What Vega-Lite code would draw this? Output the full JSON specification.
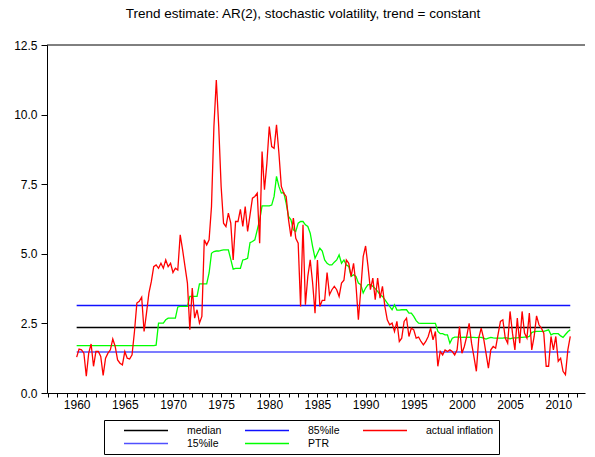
{
  "$schema": "https://vega.github.io/schema/vega-lite/v6.json",
  "width": 538,
  "height": 348,
  "autosize": "none",
  "padding": {"left": 47, "top": 45, "right": 10, "bottom": 64},
  "background": "white",
  "title": {"text": "Trend estimate: AR(2), stochastic volatility, trend = constant", "fontSize": 13.5, "font": "Liberation Sans", "fontWeight": "normal", "offset": 19, "dx": -13, "color": "black"},
  "config": {
    "view": {"stroke": null},
    "font": "Liberation Sans",
    "axis": {"domainColor": "black", "tickColor": "black", "labelColor": "black", "grid": false, "title": null, "labelFontSize": 12, "labelFont": "Liberation Sans"},
    "legend": {"orient": "none", "legendX": 57, "legendY": 375, "columns": 3, "symbolType": "stroke", "symbolSize": 1936, "clipHeight": 11, "symbolStrokeWidth": 1.5, "symbolOffset": 14, "labelOffset": 18, "labelFontSize": 10.5, "labelColor": "black", "strokeColor": "black", "padding": 5, "columnPadding": 8, "rowPadding": 2, "title": null}
  },
  "datasets": {
    "bands": [
      {"s": "median", "t": 1960, "v": 2.35}, {"s": "median", "t": 2011.25, "v": 2.35},
      {"s": "85%ile", "t": 1960, "v": 3.14}, {"s": "85%ile", "t": 2011.25, "v": 3.14},
      {"s": "15%ile", "t": 1960, "v": 1.47}, {"s": "15%ile", "t": 2011.25, "v": 1.47}
    ],
    "infl": [
      {"t":1960,"v":1.29},{"t":1960.25,"v":1.58},{"t":1960.5,"v":1.55},{"t":1960.75,"v":1.43},
      {"t":1961,"v":0.6},{"t":1961.25,"v":1.43},{"t":1961.5,"v":1.76},{"t":1961.75,"v":0.96},
      {"t":1962,"v":1.49},{"t":1962.25,"v":1.49},{"t":1962.5,"v":1.31},{"t":1962.75,"v":0.63},
      {"t":1963,"v":1.25},{"t":1963.25,"v":1.43},{"t":1963.5,"v":1.55},{"t":1963.75,"v":1.94},
      {"t":1964,"v":1.67},{"t":1964.25,"v":1.19},{"t":1964.5,"v":1.07},{"t":1964.75,"v":1.01},
      {"t":1965,"v":1.49},{"t":1965.25,"v":1.25},{"t":1965.5,"v":1.22},{"t":1965.75,"v":1.37},
      {"t":1966,"v":2.2},{"t":1966.25,"v":3.23},{"t":1966.5,"v":3.29},{"t":1966.75,"v":3.44},
      {"t":1967,"v":2.21},{"t":1967.25,"v":2.87},{"t":1967.5,"v":3.59},{"t":1967.75,"v":4.0},
      {"t":1968,"v":4.54},{"t":1968.25,"v":4.6},{"t":1968.5,"v":4.48},{"t":1968.75,"v":4.66},
      {"t":1969,"v":4.48},{"t":1969.25,"v":4.78},{"t":1969.5,"v":4.54},{"t":1969.75,"v":4.66},
      {"t":1970,"v":4.33},{"t":1970.25,"v":4.48},{"t":1970.5,"v":4.42},{"t":1970.75,"v":5.68},
      {"t":1971,"v":5.14},{"t":1971.25,"v":4.54},{"t":1971.5,"v":3.95},{"t":1971.75,"v":2.27},
      {"t":1972,"v":3.77},{"t":1972.25,"v":2.69},{"t":1972.5,"v":2.99},{"t":1972.75,"v":2.51},
      {"t":1973,"v":2.75},{"t":1973.25,"v":5.5},{"t":1973.5,"v":5.32},{"t":1973.75,"v":5.5},
      {"t":1974,"v":6.7},{"t":1974.25,"v":9.57},{"t":1974.5,"v":11.24},{"t":1974.75,"v":9.57},
      {"t":1975,"v":7.42},{"t":1975.25,"v":6.1},{"t":1975.5,"v":5.98},{"t":1975.75,"v":6.46},
      {"t":1976,"v":6.1},{"t":1976.25,"v":4.78},{"t":1976.5,"v":6.16},{"t":1976.75,"v":6.16},
      {"t":1977,"v":6.6},{"t":1977.25,"v":5.98},{"t":1977.5,"v":6.7},{"t":1977.75,"v":5.8},
      {"t":1978,"v":6.4},{"t":1978.25,"v":7.0},{"t":1978.5,"v":7.06},{"t":1978.75,"v":7.18},
      {"t":1979,"v":5.38},{"t":1979.25,"v":8.67},{"t":1979.5,"v":7.3},{"t":1979.75,"v":8.25},
      {"t":1980,"v":9.57},{"t":1980.25,"v":8.85},{"t":1980.5,"v":8.79},{"t":1980.75,"v":9.63},
      {"t":1981,"v":8.61},{"t":1981.25,"v":7.42},{"t":1981.5,"v":7.18},{"t":1981.75,"v":7.06},
      {"t":1982,"v":6.22},{"t":1982.25,"v":5.62},{"t":1982.5,"v":6.28},{"t":1982.75,"v":5.56},
      {"t":1983,"v":5.38},{"t":1983.25,"v":3.11},{"t":1983.5,"v":6.04},{"t":1983.75,"v":3.17},
      {"t":1984,"v":4.19},{"t":1984.25,"v":4.78},{"t":1984.5,"v":3.95},{"t":1984.75,"v":2.87},
      {"t":1985,"v":4.78},{"t":1985.25,"v":3.11},{"t":1985.5,"v":3.33},{"t":1985.75,"v":3.33},
      {"t":1986,"v":4.33},{"t":1986.25,"v":3.53},{"t":1986.5,"v":3.71},{"t":1986.75,"v":3.83},
      {"t":1987,"v":3.71},{"t":1987.25,"v":3.47},{"t":1987.5,"v":3.95},{"t":1987.75,"v":4.05},
      {"t":1988,"v":4.78},{"t":1988.25,"v":4.66},{"t":1988.5,"v":4.19},{"t":1988.75,"v":4.66},
      {"t":1989,"v":3.89},{"t":1989.25,"v":2.63},{"t":1989.5,"v":3.71},{"t":1989.75,"v":4.9},
      {"t":1990,"v":5.28},{"t":1990.25,"v":4.55},{"t":1990.5,"v":3.71},{"t":1990.75,"v":4.13},
      {"t":1991,"v":3.35},{"t":1991.25,"v":4.13},{"t":1991.5,"v":3.41},{"t":1991.75,"v":3.83},
      {"t":1992,"v":3.11},{"t":1992.25,"v":2.63},{"t":1992.5,"v":2.45},{"t":1992.75,"v":2.51},
      {"t":1993,"v":2.21},{"t":1993.25,"v":2.57},{"t":1993.5,"v":1.85},{"t":1993.75,"v":1.97},
      {"t":1994,"v":2.57},{"t":1994.25,"v":2.69},{"t":1994.5,"v":2.03},{"t":1994.75,"v":2.33},
      {"t":1995,"v":2.27},{"t":1995.25,"v":1.97},{"t":1995.5,"v":2.01},{"t":1995.75,"v":1.85},
      {"t":1996,"v":1.73},{"t":1996.25,"v":1.85},{"t":1996.5,"v":2.03},{"t":1996.75,"v":2.33},
      {"t":1997,"v":1.91},{"t":1997.25,"v":2.21},{"t":1997.5,"v":0.96},{"t":1997.75,"v":1.49},
      {"t":1998,"v":1.37},{"t":1998.25,"v":1.55},{"t":1998.5,"v":1.49},{"t":1998.75,"v":1.55},
      {"t":1999,"v":1.49},{"t":1999.25,"v":1.37},{"t":1999.5,"v":1.55},{"t":1999.75,"v":2.39},
      {"t":2000,"v":1.43},{"t":2000.25,"v":1.67},{"t":2000.5,"v":2.03},{"t":2000.75,"v":2.5},
      {"t":2001,"v":1.79},{"t":2001.25,"v":1.3},{"t":2001.5,"v":0.78},{"t":2001.75,"v":1.97},
      {"t":2002,"v":2.33},{"t":2002.25,"v":1.97},{"t":2002.5,"v":1.43},{"t":2002.75,"v":0.89},
      {"t":2003,"v":1.55},{"t":2003.25,"v":1.67},{"t":2003.5,"v":1.61},{"t":2003.75,"v":2.1},
      {"t":2004,"v":2.57},{"t":2004.25,"v":2.63},{"t":2004.5,"v":1.97},{"t":2004.75,"v":1.79},
      {"t":2005,"v":2.93},{"t":2005.25,"v":2.15},{"t":2005.5,"v":1.55},{"t":2005.75,"v":2.69},
      {"t":2006,"v":1.79},{"t":2006.25,"v":2.93},{"t":2006.5,"v":2.15},{"t":2006.75,"v":1.97},
      {"t":2007,"v":2.87},{"t":2007.25,"v":1.55},{"t":2007.5,"v":2.03},{"t":2007.75,"v":2.77},
      {"t":2008,"v":2.45},{"t":2008.25,"v":2.33},{"t":2008.5,"v":2.15},{"t":2008.75,"v":0.96},
      {"t":2009,"v":0.96},{"t":2009.25,"v":2.03},{"t":2009.5,"v":1.55},{"t":2009.75,"v":2.03},
      {"t":2010,"v":1.14},{"t":2010.25,"v":1.25},{"t":2010.5,"v":0.78},{"t":2010.75,"v":0.66},
      {"t":2011,"v":1.55},{"t":2011.25,"v":2.03}
    ],
    "ptr": [
      {"t":1960,"v":1.7},{"t":1960.25,"v":1.7},{"t":1960.5,"v":1.7},{"t":1960.75,"v":1.7},
      {"t":1961,"v":1.7},{"t":1961.25,"v":1.7},{"t":1961.5,"v":1.7},{"t":1961.75,"v":1.7},
      {"t":1962,"v":1.7},{"t":1962.25,"v":1.7},{"t":1962.5,"v":1.7},{"t":1962.75,"v":1.7},
      {"t":1963,"v":1.7},{"t":1963.25,"v":1.7},{"t":1963.5,"v":1.7},{"t":1963.75,"v":1.7},
      {"t":1964,"v":1.7},{"t":1964.25,"v":1.7},{"t":1964.5,"v":1.7},{"t":1964.75,"v":1.7},
      {"t":1965,"v":1.7},{"t":1965.25,"v":1.7},{"t":1965.5,"v":1.7},{"t":1965.75,"v":1.7},
      {"t":1966,"v":1.7},{"t":1966.25,"v":1.7},{"t":1966.5,"v":1.7},{"t":1966.75,"v":1.7},
      {"t":1967,"v":1.7},{"t":1967.25,"v":1.7},{"t":1967.5,"v":1.7},{"t":1967.75,"v":1.7},
      {"t":1968,"v":1.7},{"t":1968.25,"v":1.72},{"t":1968.5,"v":2.51},{"t":1968.75,"v":2.51},
      {"t":1969,"v":2.51},{"t":1969.25,"v":2.63},{"t":1969.5,"v":2.69},{"t":1969.75,"v":2.69},
      {"t":1970,"v":2.69},{"t":1970.25,"v":2.69},{"t":1970.5,"v":3.09},{"t":1970.75,"v":3.11},
      {"t":1971,"v":3.11},{"t":1971.25,"v":3.11},{"t":1971.5,"v":3.11},{"t":1971.75,"v":3.47},
      {"t":1972,"v":3.47},{"t":1972.25,"v":3.47},{"t":1972.5,"v":3.47},{"t":1972.75,"v":3.92},
      {"t":1973,"v":3.92},{"t":1973.25,"v":3.92},{"t":1973.5,"v":3.92},{"t":1973.75,"v":4.31},
      {"t":1974,"v":5.02},{"t":1974.25,"v":5.08},{"t":1974.5,"v":5.1},{"t":1974.75,"v":5.1},
      {"t":1975,"v":5.12},{"t":1975.25,"v":5.14},{"t":1975.5,"v":5.14},{"t":1975.75,"v":5.14},
      {"t":1976,"v":4.8},{"t":1976.25,"v":4.45},{"t":1976.5,"v":4.48},{"t":1976.75,"v":4.48},
      {"t":1977,"v":4.48},{"t":1977.25,"v":4.78},{"t":1977.5,"v":4.8},{"t":1977.75,"v":4.84},
      {"t":1978,"v":5.4},{"t":1978.25,"v":5.44},{"t":1978.5,"v":5.5},{"t":1978.75,"v":5.86},
      {"t":1979,"v":6.22},{"t":1979.25,"v":6.72},{"t":1979.5,"v":6.72},{"t":1979.75,"v":6.72},
      {"t":1980,"v":6.72},{"t":1980.25,"v":6.75},{"t":1980.5,"v":7.06},{"t":1980.75,"v":7.78},
      {"t":1981,"v":7.42},{"t":1981.25,"v":7.18},{"t":1981.5,"v":7.2},{"t":1981.75,"v":6.82},
      {"t":1982,"v":6.34},{"t":1982.25,"v":6.22},{"t":1982.5,"v":5.86},{"t":1982.75,"v":5.8},
      {"t":1983,"v":6.1},{"t":1983.25,"v":6.16},{"t":1983.5,"v":6.16},{"t":1983.75,"v":6.04},
      {"t":1984,"v":5.98},{"t":1984.25,"v":5.74},{"t":1984.5,"v":5.26},{"t":1984.75,"v":4.84},
      {"t":1985,"v":5.02},{"t":1985.25,"v":5.2},{"t":1985.5,"v":5.1},{"t":1985.75,"v":4.78},
      {"t":1986,"v":4.66},{"t":1986.25,"v":4.6},{"t":1986.5,"v":4.6},{"t":1986.75,"v":4.7},
      {"t":1987,"v":4.78},{"t":1987.25,"v":4.96},{"t":1987.5,"v":4.66},{"t":1987.75,"v":4.78},
      {"t":1988,"v":4.6},{"t":1988.25,"v":4.55},{"t":1988.5,"v":4.19},{"t":1988.75,"v":4.25},
      {"t":1989,"v":4.19},{"t":1989.25,"v":3.95},{"t":1989.5,"v":3.89},{"t":1989.75,"v":3.59},
      {"t":1990,"v":3.77},{"t":1990.25,"v":3.89},{"t":1990.5,"v":3.89},{"t":1990.75,"v":3.83},
      {"t":1991,"v":3.75},{"t":1991.25,"v":3.65},{"t":1991.5,"v":3.53},{"t":1991.75,"v":3.47},
      {"t":1992,"v":3.35},{"t":1992.25,"v":3.23},{"t":1992.5,"v":3.11},{"t":1992.75,"v":2.99},
      {"t":1993,"v":3.17},{"t":1993.25,"v":2.98},{"t":1993.5,"v":2.98},{"t":1993.75,"v":2.99},
      {"t":1994,"v":2.99},{"t":1994.25,"v":2.99},{"t":1994.5,"v":2.87},{"t":1994.75,"v":2.87},
      {"t":1995,"v":2.75},{"t":1995.25,"v":2.6},{"t":1995.5,"v":2.51},{"t":1995.75,"v":2.5},
      {"t":1996,"v":2.5},{"t":1996.25,"v":2.5},{"t":1996.5,"v":2.5},{"t":1996.75,"v":2.5},
      {"t":1997,"v":2.5},{"t":1997.25,"v":2.5},{"t":1997.5,"v":2.21},{"t":1997.75,"v":2.13},
      {"t":1998,"v":2.13},{"t":1998.25,"v":2.09},{"t":1998.5,"v":2.09},{"t":1998.75,"v":1.79},
      {"t":1999,"v":1.97},{"t":1999.25,"v":2.01},{"t":1999.5,"v":2.01},{"t":1999.75,"v":2.01},
      {"t":2000,"v":2.0},{"t":2000.25,"v":2.01},{"t":2000.5,"v":2.0},{"t":2000.75,"v":2.01},
      {"t":2001,"v":2.0},{"t":2001.25,"v":2.0},{"t":2001.5,"v":1.99},{"t":2001.75,"v":2.0},
      {"t":2002,"v":2.0},{"t":2002.25,"v":1.97},{"t":2002.5,"v":1.94},{"t":2002.75,"v":1.97},
      {"t":2003,"v":2.0},{"t":2003.25,"v":1.98},{"t":2003.5,"v":1.97},{"t":2003.75,"v":1.97},
      {"t":2004,"v":1.97},{"t":2004.25,"v":1.97},{"t":2004.5,"v":1.99},{"t":2004.75,"v":1.97},
      {"t":2005,"v":1.95},{"t":2005.25,"v":1.97},{"t":2005.5,"v":1.98},{"t":2005.75,"v":1.98},
      {"t":2006,"v":2.0},{"t":2006.25,"v":2.0},{"t":2006.5,"v":2.01},{"t":2006.75,"v":2.01},
      {"t":2007,"v":2.03},{"t":2007.25,"v":2.17},{"t":2007.5,"v":2.2},{"t":2007.75,"v":2.21},
      {"t":2008,"v":2.21},{"t":2008.25,"v":2.21},{"t":2008.5,"v":2.21},{"t":2008.75,"v":2.24},
      {"t":2009,"v":2.27},{"t":2009.25,"v":2.09},{"t":2009.5,"v":2.13},{"t":2009.75,"v":2.13},
      {"t":2010,"v":2.13},{"t":2010.25,"v":2.05},{"t":2010.5,"v":2.0},{"t":2010.75,"v":2.1},
      {"t":2011,"v":2.2},{"t":2011.25,"v":2.27}
    ]
  },
  "encoding": {
    "x": {"field": "t", "type": "quantitative", "scale": {"domain": [1956.92, 2012.78], "nice": false, "zero": false},
      "axis": {"values": [1957,1958,1959,1960,1961,1962,1963,1964,1965,1966,1967,1968,1969,1970,1971,1972,1973,1974,1975,1976,1977,1978,1979,1980,1981,1982,1983,1984,1985,1986,1987,1988,1989,1990,1991,1992,1993,1994,1995,1996,1997,1998,1999,2000,2001,2002,2003,2004,2005,2006,2007,2008,2009,2010,2011,2012],
        "format": "d", "labelExpr": "datum.value % 5 == 0 ? datum.label : ''", "tickSize": 4, "labelPadding": 2, "labelFlush": false, "labelOverlap": false}},
    "y": {"field": "v", "type": "quantitative", "scale": {"domain": [0, 12.5], "nice": false, "zero": false},
      "axis": {"values": [0, 2.5, 5, 7.5, 10, 12.5], "format": ".1f", "tickSize": 6, "labelPadding": 4}}
  },
  "layer": [
    {"data": {"name": "bands"}, "mark": {"type": "line", "strokeWidth": 1.5},
      "encoding": {"color": {"field": "s", "type": "nominal", "scale": {"domain": ["median", "15%ile", "85%ile", "PTR", "actual inflation"], "range": ["#000000", "#5050ff", "#1010ff", "#00ff00", "#ff0000"]}}, "detail": {"field": "s"}}},
    {"data": {"name": "ptr"}, "mark": {"type": "line", "strokeWidth": 1.3},
      "encoding": {"color": {"datum": "PTR", "type": "nominal"}}},
    {"data": {"name": "infl"}, "mark": {"type": "line", "strokeWidth": 1.3},
      "encoding": {"color": {"datum": "actual inflation", "type": "nominal"}}},
    {"data": {"values": [{"v": 12.5}]}, "mark": {"type": "rule", "color": "black", "strokeWidth": 1},
      "encoding": {"y": {"field": "v", "type": "quantitative"}, "x": null}}
  ]
}
